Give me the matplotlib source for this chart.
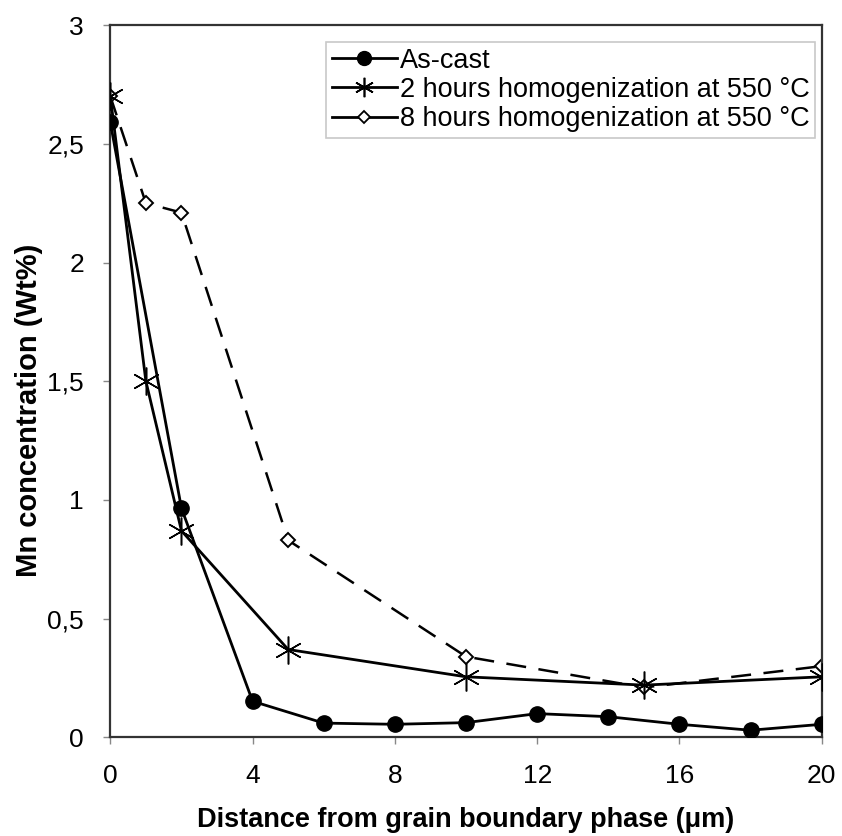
import matplotlib
matplotlib.use('Agg')
import matplotlib.pyplot as plt
from matplotlib.lines import Line2D
from matplotlib.ticker import FuncFormatter

plt.rcParams['font.family'] = ['Liberation Sans', 'DejaVu Sans']

# distance from grain boundary phase (um) and Mn content (wt%)
x_cast = [0, 2, 4, 6, 8, 10, 12, 14, 16, 18, 20]
mn_cast = [2.59, 0.965, 0.152, 0.06, 0.055, 0.062, 0.10, 0.087, 0.055, 0.03, 0.055]

x_2h = [0, 1, 2, 5, 10, 15, 20]
mn_2h = [2.70, 1.50, 0.87, 0.37, 0.255, 0.22, 0.255]

x_8h = [0, 1, 2, 5, 10, 15, 20]
mn_8h = [2.70, 2.25, 2.21, 0.83, 0.34, 0.21, 0.30]

labels = ['As-cast',
          '2 hours homogenization at 550 °C',
          '8 hours homogenization at 550 °C']

fig = plt.figure(figsize=(8.42, 8.36), dpi=100)
ax = fig.add_axes([0.131, 0.118, 0.845, 0.852])

ax.plot(x_8h, mn_8h, color='black', lw=1.8, dashes=(8, 5),
        marker='D', ms=7, mfc='white', mec='black', mew=1.4, zorder=2)
ax.plot(x_2h, mn_2h, color='black', lw=2.0,
        marker=(6, 2, 0), ms=20, mec='black', mew=1.1, zorder=3)
ax.plot(x_cast, mn_cast, color='black', lw=2.0,
        marker='o', ms=11, mfc='black', mec='black', zorder=4)

ax.set_xlim(0, 20)
ax.set_ylim(0, 3)
ax.set_xticks(range(0, 21, 4))
ax.set_yticks([0, 0.5, 1, 1.5, 2, 2.5, 3])
ax.yaxis.set_major_formatter(FuncFormatter(lambda v, p: ('%g' % v).replace('.', ',')))
ax.tick_params(axis='both', labelsize=19, direction='out', length=5, width=1,
               color='#888888')
ax.tick_params(axis='x', pad=14)
ax.tick_params(axis='y', pad=14)

for s in ax.spines.values():
    s.set_linewidth(1.6)
    s.set_color('#333333')

ax.set_xlabel('Distance from grain boundary phase (μm)', fontsize=19.5,
              fontweight='bold', labelpad=14)
ax.set_ylabel('Mn concentration (Wt%)', fontsize=21, fontweight='bold')
ax.yaxis.set_label_coords(-0.095, 0.459)

handles = [
    Line2D([], [], color='black', lw=2, marker='o', ms=10, mfc='black'),
    Line2D([], [], color='black', lw=2, marker=(6, 2, 0), ms=14, mew=1.2),
    Line2D([], [], color='black', lw=2, marker='D', ms=6, mfc='white', mew=1.3),
]
leg = ax.legend(handles, labels, loc='upper right', bbox_to_anchor=(0.99, 0.976),
                fontsize=19.5, frameon=True, fancybox=False, handlelength=2.4,
                handletextpad=0.1, borderpad=0.2, labelspacing=0.12,
                borderaxespad=0)
leg.get_frame().set_edgecolor('#bbbbbb')
leg.get_frame().set_linewidth(1.2)

fig.savefig('out.png', dpi=100, facecolor='white')
